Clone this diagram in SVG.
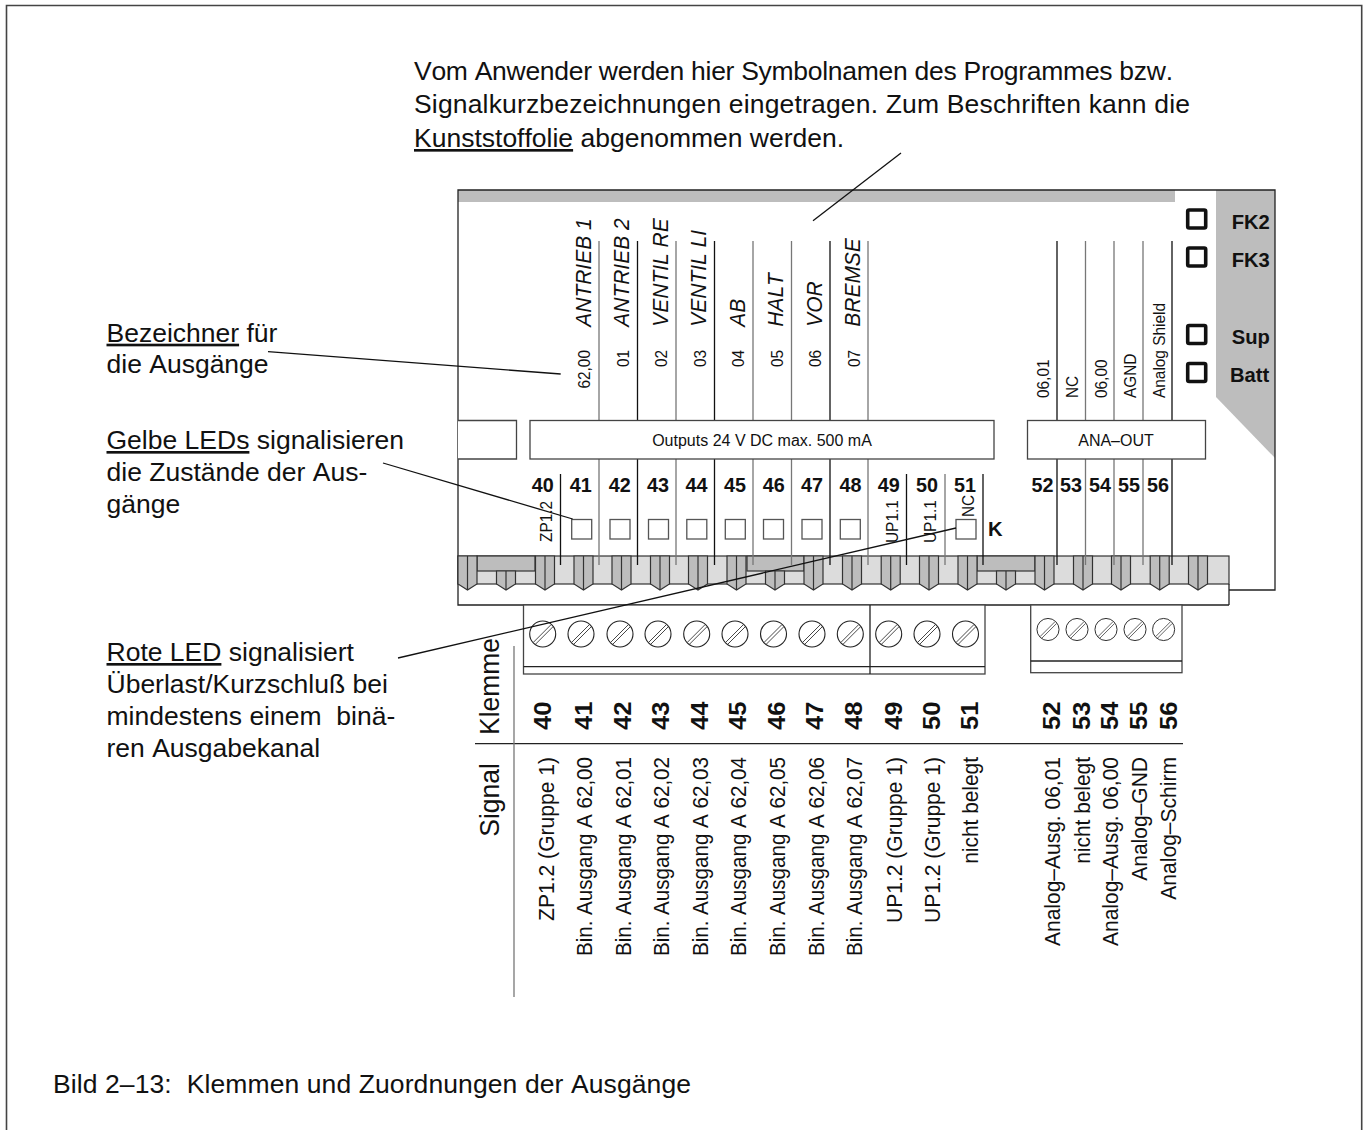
<svg xmlns="http://www.w3.org/2000/svg" width="1369" height="1130" viewBox="0 0 1369 1130">
<style>
text{font-family:"Liberation Sans",Arial,sans-serif;fill:#111;white-space:pre;font-kerning:none}
.t{font-size:26.5px}
.rt{font-size:28px}
.b{font-size:21px;font-weight:bold;text-anchor:middle}
.bl{font-size:20.2px;font-weight:bold}
.r{font-size:23.5px;font-weight:bold}
.s{font-size:21.8px;text-anchor:end}
.i{font-size:22.2px;font-style:italic}
.n{font-size:16.3px}
.ne{font-size:16.3px;text-anchor:end}
.c{font-size:16px;text-anchor:middle}
.ln{fill:none;stroke:#222;stroke-width:1.3}
.lg{fill:none;stroke:#777;stroke-width:1.3}
.k{fill:none;stroke:#111;stroke-width:1.3}
.box{fill:#fff;stroke:#444;stroke-width:1.3}
.led{fill:#fff;stroke:#555;stroke-width:1.3}
.fk{fill:#fff;stroke:#111;stroke-width:3.6}
.pin{fill:#bdbdbd;stroke:#333;stroke-width:1.2}
</style>
<defs>
<g id="pin"><path class="pin" d="M-9.5 0H9.5V28L0 34-9.5 28Z"/><path class="pin" d="M0 0V34"/></g>
<g id="spin"><path class="pin" d="M-9.5 15H9.5V28L0 34-9.5 28Z"/><path class="pin" d="M0 15V34"/></g>
<g id="screw"><circle r="13" fill="#fff" stroke="#222" stroke-width="1.1"/><path d="M-9.5 8.5 8 -9M-7.5 10.5 10 -7" fill="none" stroke="#333" stroke-width=".9"/></g>
</defs>
<path id="frame" d="M6.5 1130V5.5H1361.7V1130" fill="none" stroke="#444" stroke-width="1.6"/>

<g id="board">
<path d="M458 190H1275V590H1229V605H458Z" fill="#fff"/>
<rect x="458" y="190" width="717" height="12" fill="#bdbdbd"/>
<path d="M1216 190H1275V458L1216 397Z" fill="#bdbdbd"/>
<path d="M1229 590H1275V190H458V605H1229" class="ln"/>
</g>

<g id="output-labels">
<text class="i" transform="translate(590.7 326.7) rotate(-90) scale(.945 1)">ANTRIEB 1</text>
<text class="i" transform="translate(629 326.7) rotate(-90) scale(.945 1)">ANTRIEB 2</text>
<text class="i" transform="translate(667.5 326.7) rotate(-90) scale(.945 1)">VENTIL RE</text>
<text class="i" transform="translate(706 326.7) rotate(-90) scale(.945 1)">VENTIL LI</text>
<text class="i" transform="translate(744.5 326.7) rotate(-90) scale(.945 1)">AB</text>
<text class="i" transform="translate(783 326.7) rotate(-90) scale(.945 1)">HALT</text>
<text class="i" transform="translate(821.5 326.7) rotate(-90) scale(.945 1)">VOR</text>
<text class="i" transform="translate(860 326.7) rotate(-90) scale(.945 1)">BREMSE</text>
<text class="ne" transform="translate(590 350) rotate(-90) scale(.945 1)">62,00</text>
<text class="ne" transform="translate(628.5 350) rotate(-90) scale(.945 1)">01</text>
<text class="ne" transform="translate(667 350) rotate(-90) scale(.945 1)">02</text>
<text class="ne" transform="translate(705.5 350) rotate(-90) scale(.945 1)">03</text>
<text class="ne" transform="translate(744 350) rotate(-90) scale(.945 1)">04</text>
<text class="ne" transform="translate(782.5 350) rotate(-90) scale(.945 1)">05</text>
<text class="ne" transform="translate(821 350) rotate(-90) scale(.945 1)">06</text>
<text class="ne" transform="translate(859.5 350) rotate(-90) scale(.945 1)">07</text>
<text class="n" transform="translate(1049.3 398) rotate(-90) scale(.945 1)">06,01</text>
<text class="n" transform="translate(1078 398) rotate(-90) scale(.945 1)">NC</text>
<text class="n" transform="translate(1107 398) rotate(-90) scale(.945 1)">06,00</text>
<text class="n" transform="translate(1136 398) rotate(-90) scale(.945 1)">AGND</text>
<text class="n" transform="translate(1164.5 398) rotate(-90) scale(.945 1)">Analog Shield</text>
</g>

<g id="terminal-strip">
<rect x="458" y="556" width="771" height="28" fill="#dcdcdc" stroke="#333" stroke-width="1.2"/>
<path class="ln" d="M1229 584V605"/>
<rect x="477" y="556" width="58" height="15" class="pin"/>
<rect x="747" y="556" width="57" height="15" class="pin"/>
<rect x="977" y="556" width="58" height="15" class="pin"/>
<use href="#pin" x="467.5" y="556"/><use href="#spin" x="506" y="556"/><use href="#pin" x="545" y="556"/><use href="#pin" x="583.5" y="556"/><use href="#pin" x="621.5" y="556"/><use href="#pin" x="660" y="556"/><use href="#pin" x="698" y="556"/><use href="#pin" x="736.5" y="556"/><use href="#spin" x="775" y="556"/><use href="#pin" x="813.5" y="556"/><use href="#pin" x="852" y="556"/><use href="#pin" x="890.7" y="556"/><use href="#pin" x="929" y="556"/><use href="#pin" x="967.5" y="556"/><use href="#spin" x="1006" y="556"/><use href="#pin" x="1044.5" y="556"/><use href="#pin" x="1083" y="556"/><use href="#pin" x="1121" y="556"/><use href="#pin" x="1159.7" y="556"/><use href="#pin" x="1198" y="556"/>
</g>

<g id="output-lines">
<path class="lg" d="M599 241V420M599 459V565M676 241V420M676 459V565M753 241V420M753 459V565M791.5 241V420M791.5 459V565M868 241V420M868 459V565M945 474V565M1114 241V420M1114 459V565M1143 241V420M1143 459V565M1085.5 241V420M1085.5 459V565"/>
<path class="k" d="M637.5 241V420M637.5 459V565M714.5 241V420M714.5 459V565M830 241V420M830 459V565M560.5 474V565M906.5 474V565M983 474V565M1057 241V420M1057 459V565M1172 241V420M1172 459V565"/>
</g>

<g id="module-boxes">
<path class="box" d="M458 420.5H516.5V459H458"/>
<rect id="outputs-box" class="box" x="530" y="420.5" width="464" height="38.5"/>
<text class="c" x="762" y="446">Outputs 24 V DC max. 500 mA</text>
<rect id="ana-box" class="box" x="1027.5" y="420.5" width="178" height="38.5"/>
<text class="c" x="1116" y="446">ANA–OUT</text>
</g>

<g id="status-leds">
<rect class="fk" x="1187.7" y="210" width="18" height="18" rx="1.5"/><text class="bl" x="1231.7" y="229">FK2</text>
<rect class="fk" x="1187.7" y="248" width="18" height="18" rx="1.5"/><text class="bl" x="1231.7" y="266.7">FK3</text>
<rect class="fk" x="1187.7" y="325.5" width="18" height="18" rx="1.5"/><text class="bl" x="1231.7" y="344">Sup</text>
<rect class="fk" x="1187.7" y="363.5" width="18" height="18" rx="1.5"/><text class="bl" x="1230" y="381.7">Batt</text>
</g>

<g id="terminal-numbers">
<text class="b" x="542.7" y="492" textLength="22" lengthAdjust="spacingAndGlyphs">40</text><text class="b" x="580.7" y="492" textLength="22" lengthAdjust="spacingAndGlyphs">41</text><text class="b" x="619.7" y="492" textLength="22" lengthAdjust="spacingAndGlyphs">42</text><text class="b" x="658" y="492" textLength="22" lengthAdjust="spacingAndGlyphs">43</text><text class="b" x="696.5" y="492" textLength="22" lengthAdjust="spacingAndGlyphs">44</text><text class="b" x="735" y="492" textLength="22" lengthAdjust="spacingAndGlyphs">45</text><text class="b" x="773.7" y="492" textLength="22" lengthAdjust="spacingAndGlyphs">46</text><text class="b" x="812" y="492" textLength="22" lengthAdjust="spacingAndGlyphs">47</text><text class="b" x="850.5" y="492" textLength="22" lengthAdjust="spacingAndGlyphs">48</text><text class="b" x="888.7" y="492" textLength="22" lengthAdjust="spacingAndGlyphs">49</text><text class="b" x="927" y="492" textLength="22" lengthAdjust="spacingAndGlyphs">50</text><text class="b" x="965" y="492" textLength="22" lengthAdjust="spacingAndGlyphs">51</text><text class="b" x="1042.5" y="492" textLength="22" lengthAdjust="spacingAndGlyphs">52</text><text class="b" x="1071" y="492" textLength="22" lengthAdjust="spacingAndGlyphs">53</text><text class="b" x="1100" y="492" textLength="22" lengthAdjust="spacingAndGlyphs">54</text><text class="b" x="1129" y="492" textLength="22" lengthAdjust="spacingAndGlyphs">55</text><text class="b" x="1158" y="492" textLength="22" lengthAdjust="spacingAndGlyphs">56</text>
</g>

<g id="output-leds">
<rect class="led" x="571.7" y="519.5" width="20" height="19.5"/><rect class="led" x="610" y="519.5" width="20" height="19.5"/><rect class="led" x="648.5" y="519.5" width="20" height="19.5"/><rect class="led" x="686.8" y="519.5" width="20" height="19.5"/><rect class="led" x="725.3" y="519.5" width="20" height="19.5"/><rect class="led" x="763.5" y="519.5" width="20" height="19.5"/><rect class="led" x="802" y="519.5" width="20" height="19.5"/><rect class="led" x="840.3" y="519.5" width="20" height="19.5"/><rect class="led" x="956" y="519.5" width="20" height="19.5"/>
<text class="bl" x="988" y="536">K</text>
<text class="n" transform="translate(551.7 542) rotate(-90) scale(.945 1)">ZP1.2</text>
<text class="n" transform="translate(897.7 543) rotate(-90) scale(.945 1)">UP1.1</text>
<text class="n" transform="translate(936 543) rotate(-90) scale(.945 1)">UP1.1</text>
<text class="n" transform="translate(974 517) rotate(-90) scale(.945 1)">NC</text>
</g>

<g id="terminal-block-1">
<rect class="box" x="523.5" y="605" width="461.5" height="69"/>
<path class="ln" d="M523.5 666.7H985M870 605V674"/>
<use href="#screw" x="542.7" y="634"/><use href="#screw" x="581" y="634"/><use href="#screw" x="620" y="634"/><use href="#screw" x="658" y="634"/><use href="#screw" x="696.7" y="634"/><use href="#screw" x="735" y="634"/><use href="#screw" x="773.5" y="634"/><use href="#screw" x="812" y="634"/><use href="#screw" x="850.3" y="634"/><use href="#screw" x="888.7" y="634"/><use href="#screw" x="927" y="634"/><use href="#screw" x="965.5" y="634"/>
</g>

<g id="terminal-block-2">
<rect class="box" x="1030.7" y="605" width="151.3" height="67.7"/>
<path class="ln" d="M1030.7 661H1182"/>
<use href="#screw" transform="translate(1048 629.5) scale(.85)"/><use href="#screw" transform="translate(1077 629.5) scale(.85)"/><use href="#screw" transform="translate(1106 629.5) scale(.85)"/><use href="#screw" transform="translate(1135 629.5) scale(.85)"/><use href="#screw" transform="translate(1163.6 629.5) scale(.85)"/>
</g>

<g id="table">
<path class="ln" d="M475 743.7H1183"/>
<path class="lg" d="M514 646V997"/>
<text class="rt" transform="translate(499.3 735) rotate(-90) scale(.945 1)">Klemme</text>
<text class="rt" transform="translate(499.3 836.7) rotate(-90) scale(.945 1)">Signal</text>
<text class="r" transform="translate(550.7 730) rotate(-90) scale(1.09 1)">40</text><text class="r" transform="translate(591.7 730) rotate(-90) scale(1.09 1)">41</text><text class="r" transform="translate(630.7 730) rotate(-90) scale(1.09 1)">42</text><text class="r" transform="translate(669 730) rotate(-90) scale(1.09 1)">43</text><text class="r" transform="translate(707.7 730) rotate(-90) scale(1.09 1)">44</text><text class="r" transform="translate(746 730) rotate(-90) scale(1.09 1)">45</text><text class="r" transform="translate(784.7 730) rotate(-90) scale(1.09 1)">46</text><text class="r" transform="translate(823 730) rotate(-90) scale(1.09 1)">47</text><text class="r" transform="translate(861.7 730) rotate(-90) scale(1.09 1)">48</text><text class="r" transform="translate(901.7 730) rotate(-90) scale(1.09 1)">49</text><text class="r" transform="translate(940 730) rotate(-90) scale(1.09 1)">50</text><text class="r" transform="translate(978 730) rotate(-90) scale(1.09 1)">51</text><text class="r" transform="translate(1060 730) rotate(-90) scale(1.09 1)">52</text><text class="r" transform="translate(1090 730) rotate(-90) scale(1.09 1)">53</text><text class="r" transform="translate(1118.3 730) rotate(-90) scale(1.09 1)">54</text><text class="r" transform="translate(1147 730) rotate(-90) scale(1.09 1)">55</text><text class="r" transform="translate(1176.7 730) rotate(-90) scale(1.09 1)">56</text>
<text class="s" transform="translate(554 757) rotate(-90) scale(.945 1)" textLength="173.5" lengthAdjust="spacingAndGlyphs">ZP1.2 (Gruppe 1)</text>
<text class="s" transform="translate(592.3 757) rotate(-90) scale(.945 1)">Bin. Ausgang A 62,00</text>
<text class="s" transform="translate(630.8 757) rotate(-90) scale(.945 1)">Bin. Ausgang A 62,01</text>
<text class="s" transform="translate(669.2 757) rotate(-90) scale(.945 1)">Bin. Ausgang A 62,02</text>
<text class="s" transform="translate(707.8 757) rotate(-90) scale(.945 1)">Bin. Ausgang A 62,03</text>
<text class="s" transform="translate(746.2 757) rotate(-90) scale(.945 1)">Bin. Ausgang A 62,04</text>
<text class="s" transform="translate(785 757) rotate(-90) scale(.945 1)">Bin. Ausgang A 62,05</text>
<text class="s" transform="translate(823.5 757) rotate(-90) scale(.945 1)">Bin. Ausgang A 62,06</text>
<text class="s" transform="translate(862 757) rotate(-90) scale(.945 1)">Bin. Ausgang A 62,07</text>
<text class="s" transform="translate(901.7 757) rotate(-90) scale(.945 1)" textLength="175.6" lengthAdjust="spacingAndGlyphs">UP1.2 (Gruppe 1)</text>
<text class="s" transform="translate(940 757) rotate(-90) scale(.945 1)" textLength="175.6" lengthAdjust="spacingAndGlyphs">UP1.2 (Gruppe 1)</text>
<text class="s" transform="translate(978 757) rotate(-90) scale(.945 1)" textLength="113" lengthAdjust="spacingAndGlyphs">nicht belegt</text>
<text class="s" transform="translate(1060 757) rotate(-90) scale(.945 1)" textLength="200" lengthAdjust="spacingAndGlyphs">Analog–Ausg. 06,01</text>
<text class="s" transform="translate(1090 757) rotate(-90) scale(.945 1)" textLength="113" lengthAdjust="spacingAndGlyphs">nicht belegt</text>
<text class="s" transform="translate(1118 757) rotate(-90) scale(.945 1)" textLength="200" lengthAdjust="spacingAndGlyphs">Analog–Ausg. 06,00</text>
<text class="s" transform="translate(1147 757) rotate(-90) scale(.945 1)" textLength="131" lengthAdjust="spacingAndGlyphs">Analog–GND</text>
<text class="s" transform="translate(1176 757) rotate(-90) scale(.945 1)" textLength="151" lengthAdjust="spacingAndGlyphs">Analog–Schirm</text>
</g>

<g id="callouts">
<text class="t" x="414" y="80" textLength="759">Vom Anwender werden hier Symbolnamen des Programmes bzw.</text>
<text class="t" x="414" y="113" textLength="776">Signalkurzbezeichnungen eingetragen. Zum Beschriften kann die</text>
<text class="t" x="414" y="147"><tspan text-decoration="underline">Kunststoffolie</tspan> abgenommen werden.</text>
<text class="t" x="106.5" y="341.7"><tspan text-decoration="underline">Bezeichner</tspan> für</text>
<text class="t" x="106.5" y="373">die Ausgänge</text>
<text class="t" x="106.5" y="449"><tspan text-decoration="underline">Gelbe LEDs</tspan> signalisieren</text>
<text class="t" x="106.5" y="481">die Zustände der Aus-</text>
<text class="t" x="106.5" y="513">gänge</text>
<text class="t" x="106.5" y="661"><tspan text-decoration="underline">Rote LED</tspan> signalisiert</text>
<text class="t" x="106.5" y="693">Überlast/Kurzschluß bei</text>
<text class="t" x="106.5" y="725">mindestens einem  binä-</text>
<text class="t" x="106.5" y="757">ren Ausgabekanal</text>
<text class="t" x="53" y="1093" textLength="638">Bild 2–13:  Klemmen und Zuordnungen der Ausgänge</text>
</g>

<g id="connectors">
<path class="k" d="M901 153 813 220.7"/>
<path class="k" d="M268 351.7 560.7 374"/>
<path class="k" d="M383 463 572.7 519"/>
<path class="k" d="M398 658 956 528"/>
</g>
</svg>
